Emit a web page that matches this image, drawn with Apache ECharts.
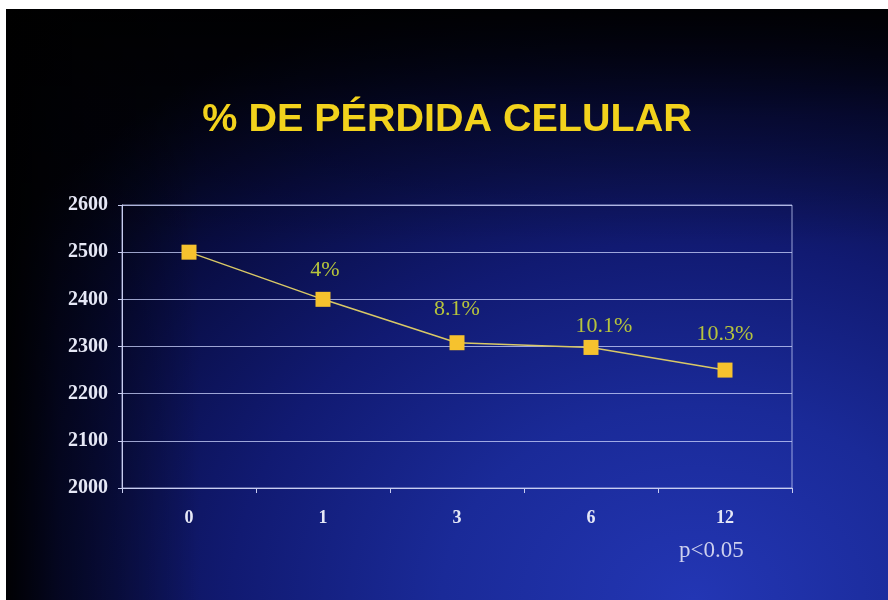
<!DOCTYPE html>
<html>
<head>
<meta charset="utf-8">
<script src="https://cdn.jsdelivr.net/npm/echarts@6/dist/echarts.min.js"></script>
<style>
  html, body { margin: 0; padding: 0; background: #ffffff; width: 888px; height: 600px; overflow: hidden; }
  #chart {
    position: absolute; left: 6px; top: 9px; width: 882px; height: 591px;
    background:
      linear-gradient(to right, rgba(0,0,0,0.95) 0%, rgba(0,0,0,0.55) 6%, rgba(0,0,0,0) 22%),
      linear-gradient(to bottom, rgba(0,0,0,0.9) 0%, rgba(0,0,0,0.35) 18%, rgba(0,0,0,0) 40%),
      radial-gradient(ellipse 95% 110% at 78% 100%, #2336b4 0%, #1a2a98 30%, #111a72 55%, #080c40 80%, #02030f 100%);
  }
</style>
</head>
<body>
<div id="chart"></div>
<script>
// Months of follow-up and cell counts
const categories = ['0', '1', '3', '6', '12'];
const cellCounts = [2500, 2400, 2308, 2298, 2250];
// Cumulative cell loss shown above each follow-up point
const lossLabels = ['', '4%', '8.1%', '10.1%', '10.3%'];
const labelOffsets = [[0, 0], [2, 7], [0, 3], [13, 15], [0, 1]];
const yTicks = { min: 2000, max: 2600, interval: 100 };

const chart = echarts.init(document.getElementById('chart'), null, { renderer: 'canvas' });

const seriesData = cellCounts.map((v, i) => ({
  value: v,
  label: {
    show: lossLabels[i] !== '',
    formatter: lossLabels[i],
    offset: labelOffsets[i]
  }
}));

chart.setOption({
  backgroundColor: 'transparent',
  animation: false,
  title: {
    text: '% DE PÉRDIDA CELULAR',
    left: 'center',
    top: 86,
    padding: [5, 0, 5, 9],
    textStyle: {
      fontFamily: '"Liberation Sans", Arial, sans-serif',
      fontWeight: 'bold',
      fontSize: 39.5,
      color: '#f2d21c'
    }
  },
  grid: { left: 116, right: 96, top: 196, bottom: 112, show: true, borderColor: 'rgba(200,208,250,0.75)', borderWidth: 1, backgroundColor: 'transparent' },
  xAxis: {
    type: 'category',
    data: categories,
    boundaryGap: true,
    axisLine: { lineStyle: { color: '#c8cdf0', width: 1 } },
    axisTick: { show: true, length: 5, lineStyle: { color: '#c8cdf0' } },
    axisLabel: {
      margin: 21,
      fontFamily: '"Liberation Serif", "Times New Roman", serif',
      fontWeight: 'bold',
      fontSize: 18,
      color: '#e6e8f6'
    }
  },
  yAxis: {
    type: 'value',
    min: yTicks.min,
    max: yTicks.max,
    interval: yTicks.interval,
    axisLine: { show: true, lineStyle: { color: '#c8cdf0', width: 1 } },
    axisTick: { show: true, length: 4, lineStyle: { color: '#c8cdf0' } },
    splitLine: { lineStyle: { color: 'rgba(205,214,255,0.75)', width: 1 } },
    axisLabel: {
      margin: 14,
      formatter: (v) => String(v),
      fontFamily: '"Liberation Serif", "Times New Roman", serif',
      fontWeight: 'bold',
      fontSize: 20,
      color: '#e6e8f6'
    }
  },
  series: [{
    type: 'line',
    data: seriesData,
    symbol: 'rect',
    symbolSize: 15,
    itemStyle: { color: '#f6c22e' },
    lineStyle: { color: '#d9c866', width: 1.5 },
    label: {
      position: 'top',
      distance: 18,
      fontFamily: '"Liberation Serif", "Times New Roman", serif',
      fontSize: 22,
      color: '#b6c43c'
    },
    z: 3
  }],
  graphic: [{
    type: 'text',
    left: 673,
    top: 530,
    style: {
      text: 'p<0.05',
      fontFamily: '"Liberation Serif", "Times New Roman", serif',
      fontSize: 23,
      fill: '#cdd0ee'
    }
  }]
});
</script>
</body>
</html>
